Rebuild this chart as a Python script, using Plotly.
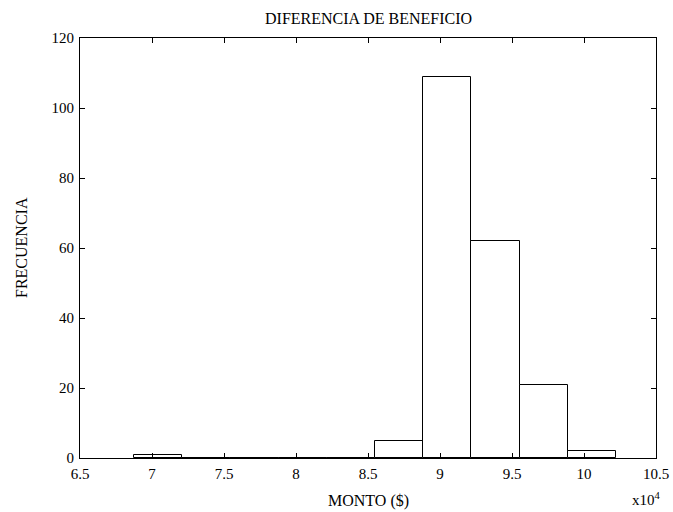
import plotly.graph_objects as go

# Histogram data (MONTO in units of 10^4 $)
bin_edges = [6.875, 7.2097, 7.5444, 7.8791, 8.2138, 8.5485, 8.8832, 9.2179, 9.5526, 9.8873, 10.222]
counts = [1, 0, 0, 0, 0, 5, 109, 62, 21, 2]
x_ticks = [6.5, 7, 7.5, 8, 8.5, 9, 9.5, 10, 10.5]
x_tick_labels = ["6.5", "7", "7.5", "8", "8.5", "9", "9.5", "10", "10.5"]
y_ticks = [0, 20, 40, 60, 80, 100, 120]

centers = [(bin_edges[i] + bin_edges[i + 1]) / 2 for i in range(len(counts))]
widths = [bin_edges[i + 1] - bin_edges[i] for i in range(len(counts))]

font = "Liberation Serif"

fig = go.Figure()
fig.add_trace(go.Bar(
    x=centers, y=counts, width=widths,
    marker=dict(color="white", line=dict(color="black", width=1)),
    hoverinfo="x+y",
))

axis_common = dict(
    showline=True, linecolor="black", linewidth=1, mirror="ticks",
    ticks="inside", ticklen=5, tickcolor="black", tickwidth=1,
    showgrid=False, zeroline=False, automargin=False,
    tickfont=dict(family=font, size=15, color="black"),
)

W, H = 673, 512
L, R, T, B = 80, 17, 38, 54
PW, PH = W - L - R, H - T - B

fig.update_layout(
    width=W, height=H,
    margin=dict(l=L, r=R, t=T, b=B, autoexpand=False),
    paper_bgcolor="white", plot_bgcolor="white",
    showlegend=False,
    bargap=0,
    font=dict(family=font, size=16, color="black"),
    xaxis=dict(range=[6.5, 10.5], tickvals=x_ticks, ticktext=x_tick_labels,
               ticklabelstandoff=2, **axis_common),
    yaxis=dict(range=[0, 120], tickvals=y_ticks, ticklabelstandoff=2, **axis_common),
    annotations=[
        dict(text="DIFERENCIA DE BENEFICIO", xref="paper", yref="paper",
             x=0.5, y=1 + (T - 19) / PH, xanchor="center", yanchor="middle",
             showarrow=False, font=dict(family=font, size=16, color="black")),
        dict(text="MONTO ($)", xref="paper", yref="paper",
             x=0.5, y=-(501 - (H - B)) / PH, xanchor="center", yanchor="middle",
             showarrow=False, font=dict(family=font, size=16, color="black")),
        dict(text="FRECUENCIA", xref="paper", yref="paper", textangle=-90,
             x=-(L - 21) / PW, y=0.5, xanchor="center", yanchor="middle",
             showarrow=False, font=dict(family=font, size=16, color="black")),
        dict(text="x10<sup>4</sup>", xref="paper", yref="paper",
             x=1.0 + 7 / PW, y=-(499 - (H - B)) / PH, xanchor="right", yanchor="middle",
             showarrow=False, font=dict(family=font, size=15, color="black")),
    ],
)

fig.write_html("out.html")
